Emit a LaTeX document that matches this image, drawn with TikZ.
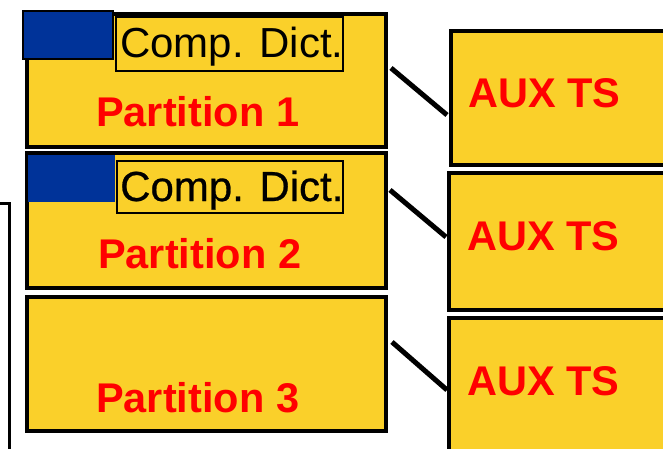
\documentclass[tikz,border=0pt]{standalone}
\usepackage{fontspec}
\setmainfont{Liberation Sans}
\newfontfamily\heavierfont[FakeBold=0.6]{Liberation Sans}
\definecolor{ylw}{RGB}{250,208,42}
\definecolor{dkblue}{RGB}{0,51,153}
\definecolor{txtred}{RGB}{255,0,0}
\begin{document}
\begin{tikzpicture}[x=1pt,y=-1pt,
  part/.style={draw=black,fill=ylw,line width=4pt,anchor=north west,inner sep=0pt,outer sep=0pt},
  bluesq/.style={draw=black,fill=dkblue,line width=2pt,anchor=north west,inner sep=0pt,outer sep=0pt},
  dictbox/.style={draw=black,fill=ylw,line width=2pt,anchor=north west,inner sep=0pt,outer sep=0pt},
  dicttxt/.style={anchor=base west,inner sep=0pt,font=\fontsize{42}{48}\selectfont},
  redtxt/.style={anchor=base west,inner sep=0pt,text=txtred,font=\fontsize{41.5}{48}\selectfont\bfseries},
  conn/.style={line width=5pt}]
\useasboundingbox (0,0) rectangle (663,449);
\clip (0,0) rectangle (663,449);
% left partial frame
\coordinate (lf0) at (0,203);
\coordinate (lf1) at (9.5,203);
\coordinate (lf2) at (9.5,460);
\draw[line width=3pt] (lf0) -- (lf1) -- (lf2);
% partitions
\node[part,minimum width=359pt,minimum height=133pt] (p1) at (27,14) {};
\node[part,minimum width=359pt,minimum height=135pt] (p2) at (27,153) {};
\node[part,minimum width=359pt,minimum height=134pt] (p3) at (27,297) {};
% blue squares and dictionary boxes
\node[bluesq,minimum width=90pt,minimum height=48pt] (b1) at (23,11) {};
\node[dictbox,minimum width=227pt,minimum height=54pt] (d1) at (116,17) {};
\node[bluesq,draw=none,minimum width=87pt,minimum height=47pt] (b2) at (28,155) {};
\node[dictbox,minimum width=226pt,minimum height=52pt] (d2) at (117,161) {};
\node[dicttxt] (t1) at (120,58) {Comp. Dict.};
\node[dicttxt,font=\fontsize{42}{48}\heavierfont] (t2) at (120,201) {Comp. Dict.};
\node[redtxt] (pl1) at (96,127) {Partition 1};
\node[redtxt] (pl2) at (98,268) {Partition 2};
\node[redtxt] (pl3) at (96,412) {Partition 3};
% AUX boxes
\node[part,minimum width=260pt,minimum height=134pt] (a1) at (451,31) {};
\node[part,minimum width=260pt,minimum height=137pt] (a2) at (449,173) {};
\node[part,minimum width=260pt,minimum height=160pt] (a3) at (449,318) {};
\node[redtxt] (at1) at (468,108) {AUX TS};
\node[redtxt] (at2) at (467,250) {AUX TS};
\node[redtxt] (at3) at (467,395) {AUX TS};
% connectors
\draw[conn] ([shift={(5,54)}]p1.north east) -- ([shift={(-4,84)}]a1.north west);
\draw[conn] ([shift={(4,37)}]p2.north east) -- ([shift={(-3,64)}]a2.north west);
\draw[conn] ([shift={(6,45)}]p3.north east) -- ([shift={(-2,72)}]a3.north west);
\end{tikzpicture}
\end{document}
